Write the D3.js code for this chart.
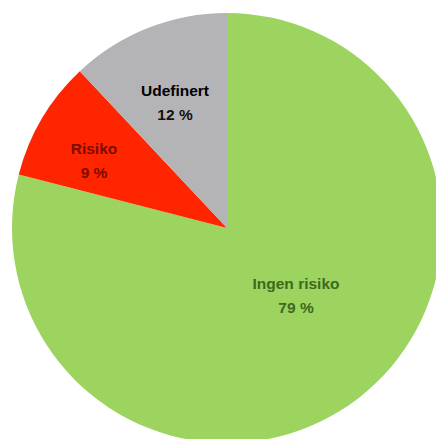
<!DOCTYPE html>
<html>
<head>
<meta charset="utf-8">
<script src="https://cdn.jsdelivr.net/npm/d3@7"></script>
<style>
  html, body { margin: 0; padding: 0; background: #ffffff; }
  svg { display: block; }
</style>
</head>
<body>
<svg id="chart" width="436" height="439"></svg>
<script>
// Slices in clockwise order from 12 o'clock
const categories = ["Ingen risiko", "Risiko", "Udefinert"];
const values = [79, 9, 12];
const valueLabels = ["79 %", "9 %", "12 %"];

// Presentation
const sliceColors = ["#9dd35f", "#ff2500", "#b4b4b7"];
const nameColors = ["#3c6a1e", "#7a0c00", "#000000"];
const pctColors = ["#3c6a1e", "#7a0c00", "#111111"];
// Label anchor offsets from the pie centre (px)
const labelOffsets = [[69, 67], [-133, -68], [-52, -126]];

const svg = d3.select("#chart");
const cx = 227, cy = 228, radius = 215;

const pie = d3.pie().sort(null).value(d => d);
const arcs = pie(values);
const arc = d3.arc().innerRadius(0).outerRadius(radius);

const g = svg.append("g").attr("transform", `translate(${cx},${cy})`);

g.selectAll("path.slice")
  .data(arcs)
  .join("path")
  .attr("class", "slice")
  .attr("d", arc)
  .attr("fill", (d, i) => sliceColors[i]);

const labels = g.selectAll("g.label")
  .data(arcs)
  .join("g")
  .attr("class", "label")
  .attr("transform", (d, i) => `translate(${labelOffsets[i][0]},${labelOffsets[i][1]})`)
  .style("font-family", "'Liberation Sans', Arial, sans-serif")
  .style("font-weight", "bold")
  .style("font-size", "15.5px")
  .attr("text-anchor", "middle");

labels.append("text")
  .attr("y", -6)
  .attr("fill", (d, i) => nameColors[i])
  .text((d, i) => categories[i]);

labels.append("text")
  .attr("y", 18)
  .attr("fill", (d, i) => pctColors[i])
  .text((d, i) => valueLabels[i]);
</script>
</body>
</html>
